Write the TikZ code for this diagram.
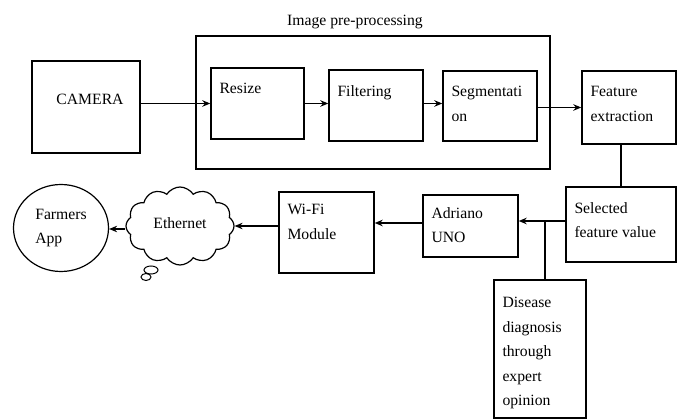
\documentclass[tikz,border=0pt]{standalone}
\usepackage{fontspec}
\setmainfont{Liberation Serif}
\usetikzlibrary{arrows.meta,shapes,shapes.geometric,shapes.symbols,positioning}
\tikzstyle{block} = [draw, rectangle, line width=1.4pt, inner sep=0pt]
\tikzstyle{txt} = [anchor=north west, align=left, inner xsep=9pt, inner ysep=16pt]
\tikzstyle{arrow} = [line width=1.4pt,->,>={Stealth[length=8pt,width=6.5pt]}]
\newcommand{\bodyfont}{\fontsize{15.7}{24.5}\selectfont}

\begin{document}
\begin{tikzpicture}[x=1pt,y=-1pt,font=\bodyfont]
      \useasboundingbox (0,0) rectangle (682,419);
      % image pre-processing frame
      \node (prep) at (373,102.5) [block, minimum width=354pt, minimum height=133pt] {};
      \node (title) at (355,22) {Image pre-processing};
      % top row
      \node (camera) at (86,107) [block, minimum width=108pt, minimum height=92pt, label={[yshift=8pt,xshift=4pt]center:CAMERA}] {};
      \node (resize) at (257.5,103.5) [block, minimum width=93pt, minimum height=71pt, label={[txt]north west:Resize}] {};
      \node (filter) at (376,105.5) [block, minimum width=94pt, minimum height=71pt, label={[txt]north west:Filtering}] {};
      \node (seg) at (490,106) [block, minimum width=94pt, minimum height=70pt, label={[txt]north west:Segmentati\\on}] {};
      \node (feat) at (629,107.5) [block, minimum width=94pt, minimum height=73pt, label={[txt]north west:Feature\\extraction}] {};
      % bottom row
      \node (sel) at (621,224.5) [block, minimum width=110pt, minimum height=75pt, label={[txt]north west:Selected\\feature value}] {};
      \node (dis) at (540,349) [block, minimum width=92pt, minimum height=138pt, label={[txt,inner ysep=18pt]north west:Disease\\diagnosis\\through\\expert\\opinion}] {};
      \node (ard) at (470.5,226) [block, minimum width=95pt, minimum height=62pt, label={[txt,inner ysep=13pt]north west:Adriano\\UNO}] {};
      \node (wifi) at (326.5,232.5) [block, minimum width=95pt, minimum height=81pt, label={[txt,inner ysep=13pt]north west:Wi-Fi\\Module}] {};
      \node (eth) at (180,226) [cloud, draw, line width=1.2pt, cloud puffs=12, cloud puff arc=115, aspect=1.4, minimum width=108pt, minimum height=78pt, inner sep=0pt] {\raisebox{5pt}{Ethernet}};
      \node (app) at (61,228) [ellipse, draw, line width=1.2pt, minimum width=95pt, minimum height=87pt, align=left, inner sep=0pt] {Farmers\\App};
      % thought bubbles under the cloud
      \draw[line width=1pt] (151,270) ellipse (7 and 4);
      \draw[line width=1pt] (146,277) ellipse (5 and 3.5);
      % connectors
      \draw[arrow] (camera.east |- resize.west) -- (resize.west);
      \draw[arrow] (resize.east) -- (resize.east -| filter.west);
      \draw[arrow] (filter.east |- resize.east) -- (resize.east -| seg.west);
      \draw[arrow] (seg.east |- feat.west) -- (feat.west);
      \draw[line width=1.4pt] (sel.north |- feat.south) -- (sel.north);
      \draw[arrow] (sel.west |- 0,221) -- (ard.east |- 0,221);
      \draw[line width=1.4pt] (dis.north -| 545,0) -- (545,221);
      \draw[arrow] (ard.west |- 0,223) -- (wifi.east |- 0,223);
      \draw[arrow] (wifi.west |- 0,226) -- (eth.east |- 0,226);
      \draw[arrow] (eth.west |- 0,229) -- (app.east |- 0,229);
\end{tikzpicture}
\end{document}
